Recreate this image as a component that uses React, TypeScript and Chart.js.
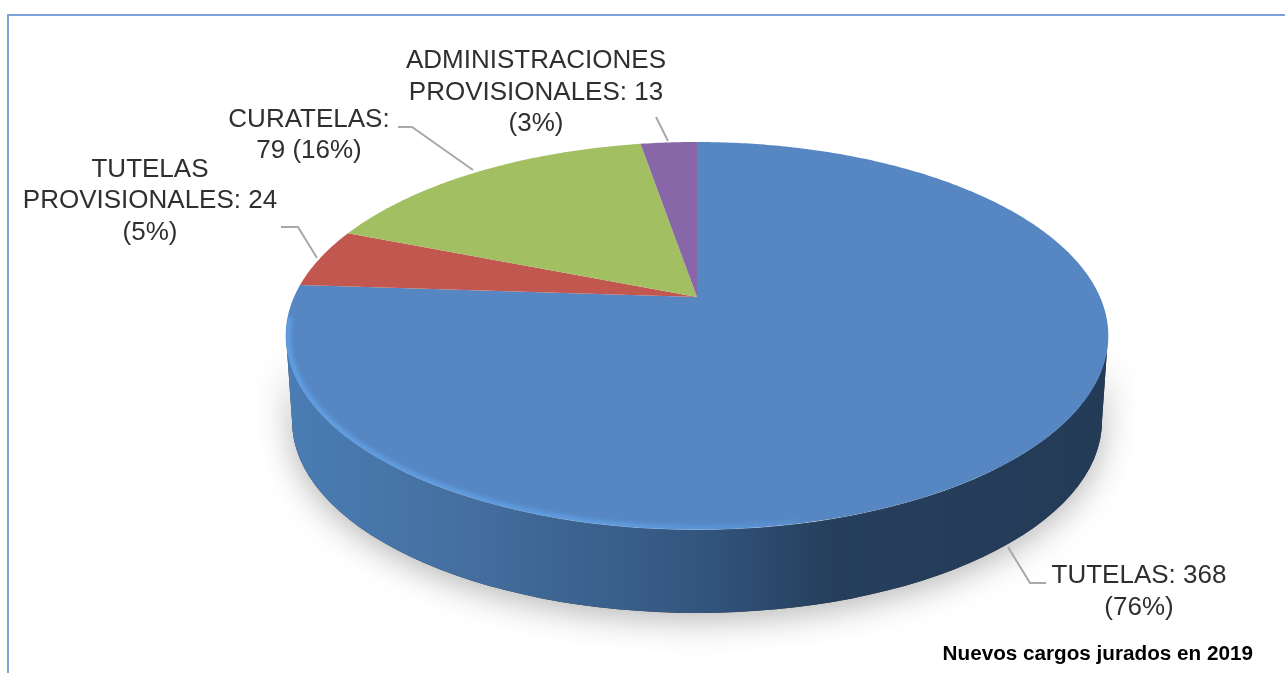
import React, { useEffect, useRef } from "react";
import { Chart, registerables } from "chart.js";

Chart.register(...registerables);

const categories = ["TUTELAS", "TUTELAS PROVISIONALES", "CURATELAS", "ADMINISTRACIONES PROVISIONALES"];
const values = [368, 24, 79, 13];
const sliceColors = ["#5687c3", "#c2574f", "#a2bf62", "#8767a8"];
const caption = "Nuevos cargos jurados en 2019";
const labelLines = [
  ["TUTELAS: 368", "(76%)"],
  ["TUTELAS", "PROVISIONALES: 24", "(5%)"],
  ["CURATELAS:", "79 (16%)"],
  ["ADMINISTRACIONES", "PROVISIONALES: 13", "(3%)"],
];

// Layout of the annotations, in page pixels
const labelCentres = [1139, 150, 309, 536];
const labelBaselines = [
  [583, 615],
  [177, 208, 240],
  [127, 158],
  [68, 100, 131],
];
const leaders = [
  [[1008, 547], [1030, 583], [1046, 583]],
  [[281, 227], [298, 227], [317, 258]],
  [[398, 127], [412, 127], [473, 170]],
  [[656, 117], [668, 141]],
];

// Perspective of the disc
const CX = 697, APEX_Y = 297, A = 403, B = 186, P = 0.2;
const project = (a: number): [number, number] => {
  const x = Math.cos(a), y = Math.sin(a), w = 1 - P * y;
  return [CX + (A * x) / w, APEX_Y + (B * y) / w];
};
const TOP = { cy: 336, rx: 411, ry: 194 };
const BOTTOM = { cy: 421, rx: 405, ry: 192 };

const discPlugin = {
  id: "disc",
  beforeDatasetsDraw(chart: any) {
    const ctx: CanvasRenderingContext2D = chart.ctx;
    const arcs = chart.getDatasetMeta(0).data;
    ctx.save();

    // frame
    ctx.strokeStyle = "#7aa2d6";
    ctx.lineWidth = 2;
    ctx.beginPath();
    ctx.moveTo(8, 673);
    ctx.lineTo(8, 15);
    ctx.lineTo(1285, 15);
    ctx.stroke();

    const sidePath = () => {
      ctx.beginPath();
      ctx.ellipse(CX, BOTTOM.cy, BOTTOM.rx, BOTTOM.ry, 0, 0, Math.PI);
      ctx.lineTo(CX - TOP.rx, TOP.cy);
      ctx.ellipse(CX, TOP.cy, TOP.rx, TOP.ry, 0, Math.PI, 0, true);
      ctx.closePath();
    };

    // soft shadow under the disc
    ctx.save();
    ctx.beginPath();
    ctx.rect(0, 345, 1285, 328);
    ctx.clip();
    ctx.shadowColor = "rgba(0,0,0,0.3)";
    ctx.shadowBlur = 34;
    ctx.shadowOffsetY = 6;
    ctx.fillStyle = "#333";
    sidePath();
    ctx.fill();
    ctx.restore();

    // side wall
    const side = ctx.createLinearGradient(286, 0, 1108, 0);
    side.addColorStop(0, "#4a7db4");
    side.addColorStop(0.22, "#446f9f");
    side.addColorStop(0.5, "#33567f");
    side.addColorStop(0.66, "#263f5d");
    side.addColorStop(1, "#243b57");
    ctx.fillStyle = side;
    sidePath();
    ctx.fill();

    // top face slices, from the angles the library computed
    arcs.forEach((arc: any, i: number) => {
      const start = arc.startAngle, end = arc.endAngle;
      const n = Math.max(4, Math.ceil((end - start) * 90));
      ctx.beginPath();
      ctx.moveTo(CX, APEX_Y);
      for (let k = 0; k <= n; k++) {
        const [x, y] = project(start + ((end - start) * k) / n);
        ctx.lineTo(x, y);
      }
      ctx.closePath();
      ctx.fillStyle = sliceColors[i];
      ctx.fill();
    });

    // light bevel along the near left rim
    ctx.save();
    ctx.beginPath();
    ctx.ellipse(CX, TOP.cy, TOP.rx, TOP.ry, 0, 0, Math.PI * 2);
    ctx.clip();
    const rim = ctx.createLinearGradient(286, 0, 900, 0);
    rim.addColorStop(0, "rgba(100,165,235,0.8)");
    rim.addColorStop(0.55, "rgba(100,165,235,0.7)");
    rim.addColorStop(1, "rgba(100,165,235,0)");
    ctx.strokeStyle = rim;
    ctx.lineWidth = 7;
    ctx.filter = "blur(2px)";
    ctx.beginPath();
    ctx.ellipse(CX, TOP.cy, TOP.rx - 1, TOP.ry - 1, 0, Math.PI * 0.42, Math.PI * 1.03);
    ctx.stroke();
    ctx.restore();

    // leader lines
    ctx.strokeStyle = "#a8a8a8";
    ctx.lineWidth = 2;
    leaders.forEach((pts) => {
      ctx.beginPath();
      pts.forEach(([x, y], k) => (k ? ctx.lineTo(x, y) : ctx.moveTo(x, y)));
      ctx.stroke();
    });

    // labels
    ctx.fillStyle = "#2f2f2f";
    ctx.font = '26px "Liberation Sans"';
    ctx.textAlign = "center";
    ctx.textBaseline = "alphabetic";
    labelLines.forEach((lines, i) => {
      lines.forEach((t, k) => ctx.fillText(t, labelCentres[i], labelBaselines[i][k]));
    });
    ctx.fillStyle = "#000";
    ctx.font = 'bold 20.7px "Liberation Sans"';
    ctx.textAlign = "right";
    ctx.fillText(caption, 1253, 660);

    ctx.restore();
    return false;
  },
};

export default function App() {
  const ref = useRef<HTMLCanvasElement>(null);
  useEffect(() => {
    document.body.style.margin = "0";
    document.body.style.background = "#fff";
    const chart = new Chart(ref.current!, {
      type: "pie",
      data: {
        labels: categories,
        datasets: [{ data: values, backgroundColor: sliceColors, borderWidth: 0 }],
      },
      options: {
        animation: false,
        responsive: false,
        plugins: { legend: { display: false }, tooltip: { enabled: false } },
      },
      plugins: [discPlugin as any],
    });
    return () => chart.destroy();
  }, []);
  return <canvas ref={ref} width={1285} height={673} style={{ display: "block" }} />;
}
